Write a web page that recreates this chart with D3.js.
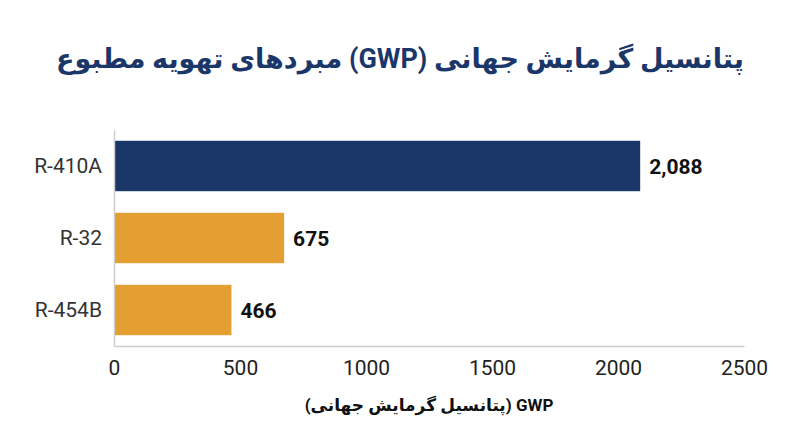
<!DOCTYPE html>
<html lang="fa">
<head>
    <meta charset="UTF-8">
    <title>GWP refrigerants</title>
    <script src="https://cdnjs.cloudflare.com/ajax/libs/d3/7.8.5/d3.min.js"></script>
    <style>
        body {
            margin: 0;
            padding: 0;
            background-color: #ffffff;
            font-family: Roboto, "DejaVu Sans", sans-serif;
        }
    </style>
</head>
<body>
    <div id="chart"></div>
    <script>
        const refrigerants = ["R-410A", "R-32", "R-454B"];
        const gwpValues = [2088, 675, 466];
        const barColors = ["#1b3769", "#e39f32", "#e39f32"];
        const xTicks = [0, 500, 1000, 1500, 2000, 2500];
        const titleText = "پتانسیل گرمایش جهانی (GWP) مبردهای تهویه مطبوع";
        const xAxisTitle = "GWP (پتانسیل گرمایش جهانی)";

        const width = 800;
        const height = 447;
        const margin = {top: 130, right: 56, bottom: 101, left: 114};

        const svg = d3.select("#chart")
            .append("svg")
            .attr("width", width)
            .attr("height", height);

        const x = d3.scaleLinear()
            .domain([0, 2500])
            .range([margin.left, width - margin.right]);

        const y = d3.scaleBand()
            .domain(refrigerants)
            .range([margin.top, height - margin.bottom])
            .paddingInner(0.3)
            .paddingOuter(0.15);

        // title
        svg.append("text")
            .attr("x", 400)
            .attr("y", 68)
            .attr("text-anchor", "middle")
            .attr("direction", "rtl")
            .style("font-size", "27px")
            .style("font-weight", "bold")
            .attr("fill", "#1b3769")
            .text(titleText);

        // bars
        svg.selectAll("rect.bar")
            .data(refrigerants)
            .join("rect")
            .attr("class", "bar")
            .attr("x", x(0))
            .attr("y", d => y(d))
            .attr("width", (d, i) => x(gwpValues[i]) - x(0))
            .attr("height", y.bandwidth())
            .attr("fill", (d, i) => barColors[i]);

        // value labels
        svg.selectAll("text.value")
            .data(refrigerants)
            .join("text")
            .attr("class", "value")
            .attr("x", (d, i) => x(gwpValues[i]) + 9)
            .attr("y", d => y(d) + y.bandwidth() / 2)
            .attr("dy", "0.36em")
            .style("font-size", "21px")
            .style("font-weight", "bold")
            .attr("fill", "#111")
            .text((d, i) => d3.format(",")(gwpValues[i]));

        // y axis
        const yAxis = svg.append("g")
            .attr("transform", `translate(${margin.left},0)`)
            .call(d3.axisLeft(y).tickSize(0).tickPadding(12));
        yAxis.select(".domain").attr("stroke", "#cccccc").attr("stroke-width", 1.5);
        yAxis.selectAll("text")
            .style("font-size", "21px")
            .style("font-family", "Roboto, sans-serif")
            .attr("fill", "#333");

        // x axis
        const xAxis = svg.append("g")
            .attr("transform", `translate(0,${height - margin.bottom})`)
            .call(d3.axisBottom(x).tickValues(xTicks).tickFormat(d3.format("d")).tickSize(0).tickPadding(14));
        xAxis.select(".domain").attr("stroke", "#cccccc").attr("stroke-width", 1.5);
        xAxis.selectAll("text")
            .style("font-size", "21px")
            .style("font-family", "Roboto, sans-serif")
            .attr("fill", "#222");

        // x axis title
        svg.append("text")
            .attr("x", (x(0) + x(2500)) / 2)
            .attr("y", 411)
            .attr("text-anchor", "middle")
            .attr("direction", "rtl")
            .style("font-size", "17px")
            .style("font-weight", "bold")
            .attr("fill", "#111")
            .text(xAxisTitle);
    </script>
</body>
</html>
